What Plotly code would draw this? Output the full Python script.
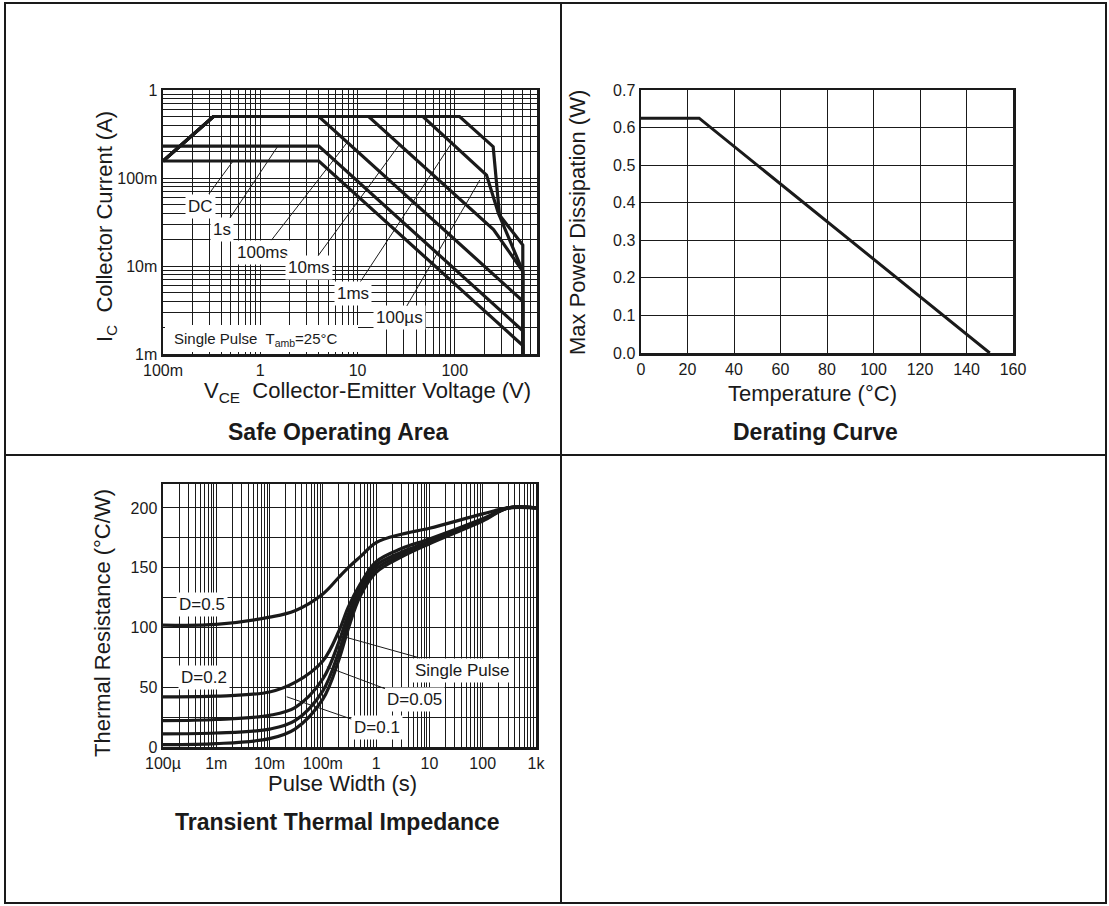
import numpy as np
import plotly.graph_objects as go

W, H = 1109, 906

# ---------------- Safe Operating Area (V, A) ----------------
soa_dc_v = [0.1, 4, 500, 500]
soa_dc_i = [0.156, 0.156, 0.00125, 0.001]
soa_1s_v = [0.1, 4, 500, 500]
soa_1s_i = [0.23, 0.23, 0.00184, 0.001]
soa_100ms_v = [0.1, 0.33, 4, 500, 500]
soa_100ms_i = [0.156, 0.5, 0.5, 0.004, 0.001]
soa_10ms_v = [0.1, 0.33, 13, 250, 500, 500]
soa_10ms_i = [0.156, 0.5, 0.5, 0.026, 0.0087, 0.001]
soa_1ms_v = [0.1, 0.33, 47, 212, 280, 500, 500]
soa_1ms_i = [0.156, 0.5, 0.5, 0.108, 0.040, 0.0087, 0.001]
soa_100us_v = [0.1, 0.33, 112, 248, 288, 500, 500]
soa_100us_i = [0.156, 0.5, 0.5, 0.227, 0.038, 0.0173, 0.001]

soa_xtick_vals = [0.1, 1, 10, 100]
soa_xtick_text = ["100m", "1", "10", "100"]
soa_ytick_vals = [0.001, 0.01, 0.1, 1]
soa_ytick_text = ["1m", "10m", "100m", "1"]

# label text, arrow tip (V, A), text offset (px)
soa_labels = ["DC", "1s", "100ms", "10ms", "1ms", "100µs"]
soa_label_tip_v = [0.525, 1.52, 8.0, 27.0, 95.0, 181.0]
soa_label_tip_i = [0.156, 0.231, 0.262, 0.24, 0.26, 0.095]
soa_label_dx = [-33, -56, -86, -90, -100, -80]
soa_label_dy = [45, 84, 111, 123, 152, 138]

# ---------------- Derating curve ----------------
der_temp = [0, 25, 150]
der_power = [0.625, 0.625, 0.0]

# ---------------- Transient thermal impedance ----------------
tti_t = [1e-4, 1e-3, 1e-2, 3e-2, 0.1, 0.2, 0.3, 0.5, 1, 3, 10, 100, 300, 1000]
tti_d05 = [102, 102.5, 108.6, 114, 128, 142, 150, 159, 171, 178, 183, 195, 200, 200]
tti_d02 = [42, 42.5, 46, 54, 72, 97, 117, 136, 155, 166, 174, 191, 200, 200]
tti_d01 = [22, 23, 26.5, 33, 57, 88, 111, 133, 152, 163, 172, 190, 200, 200]
tti_d005 = [11, 11.7, 15, 22, 47, 80, 105, 130, 149, 161, 171, 190, 200, 200]
tti_single = [2, 2.8, 7, 15, 40, 73, 99, 126, 146, 159, 170, 189, 200, 200]

tti_xtick_vals = [1e-4, 1e-3, 1e-2, 1e-1, 1, 10, 100, 1000]
tti_xtick_text = ["100µ", "1m", "10m", "100m", "1", "10", "100", "1k"]
tti_ytick_vals = [0, 25, 50, 75, 100, 125, 150, 175, 200]
tti_ytick_text = ["0", "", "50", "", "100", "", "150", "", "200"]

tti_lead_labels = ["Single Pulse", "D=0.05", "D=0.1"]
tti_lead_tip_t = [0.26, 0.119, 0.021]
tti_lead_tip_r = [92, 67, 42]
tti_lead_dx = [118, 88, 90]
tti_lead_dy = [33, 33, 31]

FONT = "Liberation Sans, Arial, Helvetica, sans-serif"
BLACK = "#1a1a1a"


def px_x(p):
    return p / W


def px_y(p):
    return 1 - p / H


def log_grid(lo_exp, hi_val):
    vals = []
    for e in range(lo_exp, 4):
        for m in range(1, 10):
            v = m * 10.0 ** e
            if v <= hi_val * 1.0001:
                vals.append(v)
    return vals


def tick_text(vals, major_vals, major_text):
    out = []
    for v in vals:
        lab = ""
        for mv, mt in zip(major_vals, major_text):
            if abs(v - mv) / mv < 1e-6:
                lab = mt
        out.append(lab)
    return out


fig = go.Figure()

line_style = dict(color=BLACK, width=3.2)

# SOA traces
for vx, iy in [(soa_dc_v, soa_dc_i), (soa_1s_v, soa_1s_i), (soa_100ms_v, soa_100ms_i),
               (soa_10ms_v, soa_10ms_i), (soa_1ms_v, soa_1ms_i), (soa_100us_v, soa_100us_i)]:
    fig.add_trace(go.Scatter(x=vx, y=iy, mode="lines", line=line_style,
                             xaxis="x", yaxis="y", showlegend=False, hoverinfo="skip"))

# Derating
fig.add_trace(go.Scatter(x=der_temp, y=der_power, mode="lines", line=dict(color=BLACK, width=3),
                         xaxis="x2", yaxis="y2", showlegend=False, hoverinfo="skip"))

# Transient
for ry in [tti_d05, tti_d02, tti_d01, tti_d005, tti_single]:
    fig.add_trace(go.Scatter(x=tti_t, y=ry, mode="lines", line=dict(color=BLACK, width=3.2, shape="spline", smoothing=1.0),
                             xaxis="x3", yaxis="y3", showlegend=False, hoverinfo="skip"))

soa_xv = log_grid(-1, 700)
soa_yv = log_grid(-3, 1)
tti_xv = log_grid(-4, 1000)

tickfont = dict(family=FONT, size=16, color=BLACK)
axis_common = dict(showline=True, mirror=True, linecolor=BLACK, linewidth=2.5,
                   showgrid=True, gridcolor=BLACK, gridwidth=1, zeroline=False,
                   ticks="", tickfont=tickfont, fixedrange=True, automargin=False)

fig.update_layout(
    width=W, height=H, autosize=False,
    margin=dict(l=0, r=0, t=0, b=0, pad=0),
    paper_bgcolor="white", plot_bgcolor="white",
    xaxis=dict(axis_common, type="log", range=[-1, np.log10(700)],
               domain=[px_x(163), px_x(537)], anchor="y",
               tickmode="array", tickvals=soa_xv,
               ticktext=tick_text(soa_xv, soa_xtick_vals, soa_xtick_text)),
    yaxis=dict(axis_common, type="log", range=[-3, 0],
               domain=[px_y(354), px_y(90)], anchor="x",
               tickmode="array", tickvals=soa_yv,
               ticktext=tick_text(soa_yv, soa_ytick_vals, soa_ytick_text)),
    xaxis2=dict(axis_common, range=[0, 160], dtick=20, tick0=0,
                domain=[px_x(641), px_x(1013)], anchor="y2"),
    yaxis2=dict(axis_common, range=[0, 0.7], dtick=0.1, tick0=0, tickformat=".1f",
                domain=[px_y(353), px_y(90)], anchor="x2"),
    xaxis3=dict(axis_common, type="log", range=[-4, 3],
                domain=[px_x(163), px_x(536)], anchor="y3",
                tickmode="array", tickvals=tti_xv,
                ticktext=tick_text(tti_xv, tti_xtick_vals, tti_xtick_text)),
    yaxis3=dict(axis_common, range=[0, 220],
                domain=[px_y(747), px_y(484)], anchor="x3",
                tickmode="array", tickvals=tti_ytick_vals, ticktext=tti_ytick_text),
)

# Frame lines
shapes = [
    dict(type="rect", xref="paper", yref="paper", x0=px_x(5), x1=px_x(1106), y0=px_y(903), y1=px_y(3),
         line=dict(color=BLACK, width=2)),
    dict(type="line", xref="paper", yref="paper", x0=px_x(561), x1=px_x(561), y0=px_y(903), y1=px_y(3),
         line=dict(color=BLACK, width=2)),
    dict(type="line", xref="paper", yref="paper", x0=px_x(5), x1=px_x(1106), y0=px_y(455), y1=px_y(455),
         line=dict(color=BLACK, width=2)),
    # white box behind SOA note
    dict(type="rect", xref="paper", yref="paper", x0=px_x(165), x1=px_x(358), y0=px_y(352), y1=px_y(325),
         fillcolor="white", line=dict(width=0), layer="above"),
]
fig.update_layout(shapes=shapes)

ann = []
txt = dict(family=FONT, size=17, color=BLACK)
# SOA leader labels
for lab, tv, ti, dx, dy in zip(soa_labels, soa_label_tip_v, soa_label_tip_i, soa_label_dx, soa_label_dy):
    ann.append(dict(x=np.log10(tv), y=np.log10(ti), xref="x", yref="y", text=lab, showarrow=True,
                    arrowhead=0, arrowwidth=1, arrowcolor=BLACK, ax=dx, ay=dy,
                    bgcolor="white", font=txt, borderpad=2))
ann.append(dict(x=px_x(172), y=px_y(339), xref="paper", yref="paper", xanchor="left", yanchor="middle",
                text="Single Pulse  T<sub>amb</sub>=25°C", showarrow=False, font=dict(family=FONT, size=15, color=BLACK)))

# Transient leader labels
for lab, tv, rv, dx, dy in zip(tti_lead_labels, tti_lead_tip_t, tti_lead_tip_r, tti_lead_dx, tti_lead_dy):
    ann.append(dict(x=np.log10(tv), y=rv, xref="x3", yref="y3", text=lab, showarrow=True,
                    arrowhead=0, arrowwidth=1, arrowcolor=BLACK, ax=dx, ay=dy,
                    bgcolor="white", font=txt, borderpad=2))


def centered(xp, yp, text, font, angle=0, **kw):
    d = dict(x=px_x(xp), y=px_y(yp), xref="paper", yref="paper", xanchor="center", yanchor="middle",
             text=text, showarrow=False, font=font, textangle=angle)
    d.update(kw)
    return d


ann.append(centered(202, 604, "D=0.5", txt, bgcolor="white", borderpad=2))
ann.append(centered(204, 677, "D=0.2", txt, bgcolor="white", borderpad=2))

# Axis titles
title_font = dict(family=FONT, size=22, color=BLACK)
ann += [
    centered(106, 227, "I<sub>C</sub>  Collector Current (A)", title_font, -90),
    centered(367, 392, "V<sub>CE</sub>  Collector-Emitter Voltage (V)", title_font),
    centered(577, 223, "Max Power Dissipation (W)", title_font, -90),
    centered(812, 393, "Temperature (°C)", title_font),
    centered(102, 623, "Thermal Resistance (°C/W)", title_font, -90),
    centered(342, 783, "Pulse Width (s)", title_font),
]
panel_font = dict(family=FONT, size=23, color=BLACK, weight="bold")
ann += [
    centered(338, 432, "<b>Safe Operating Area</b>", panel_font),
    centered(815, 432, "<b>Derating Curve</b>", panel_font),
    centered(337, 822, "<b>Transient Thermal Impedance</b>", panel_font),
]
fig.update_layout(annotations=ann)

fig.write_html("out.html", config={"displayModeBar": False, "staticPlot": True},
               post_script="document.body.style.margin='0px';document.body.style.overflow='hidden';")
